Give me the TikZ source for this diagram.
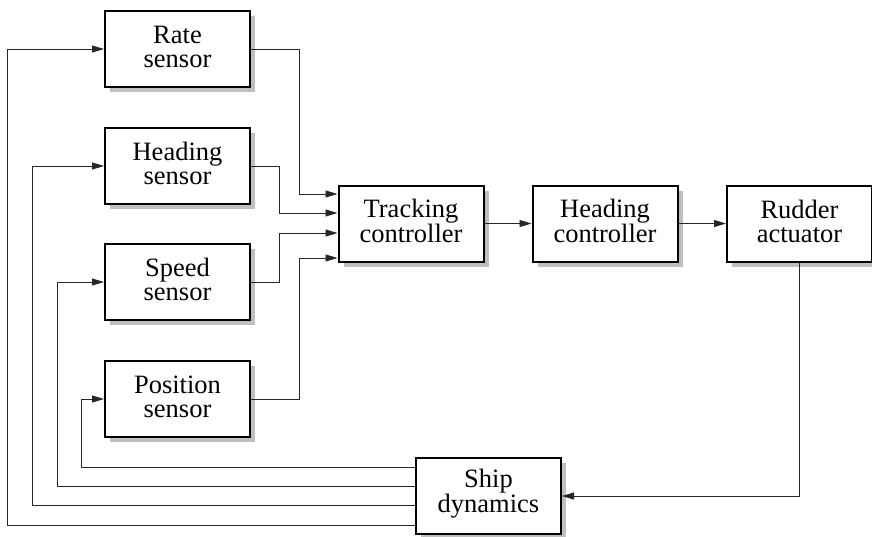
\documentclass[tikz,border=0pt]{standalone}
\usepackage{fontspec}
\setmainfont{Liberation Serif}
\usetikzlibrary{arrows.meta,shadows}
\begin{document}
\begin{tikzpicture}[x=1pt,y=-1pt,
  caption/.style={align=center, inner sep=0pt, font=\fontsize{26.5}{24}\selectfont, yshift=2.5pt},
  block/.style={draw, line width=2pt, minimum width=145pt, minimum height=76pt,
    inner sep=0pt, fill=white, label={[caption]center:#1},
    drop shadow={shadow xshift=5pt, shadow yshift=-5pt, fill=black!25, opacity=1}},
  link/.style={line width=0.9pt, draw=black!85},
  arr/.style={link, -{Triangle[length=12pt,width=7pt]}}]
\useasboundingbox (0,0) rectangle (872,536);

% sensors
\node[block={Rate\\sensor}]     (rate) at (177.5,49)  {};
\node[block={Heading\\sensor}]  (hs)   at (177.5,166) {};
\node[block={Speed\\sensor}]    (ss)   at (177.5,282) {};
\node[block={Position\\sensor}] (ps)   at (177.5,399) {};

% forward chain
\node[block={Tracking\\controller}] (tc)   at (411,223.5)   {};
\node[block={Heading\\controller}]  (hc)   at (605,223.5)   {};
\node[block={Rudder\\actuator}]     (ra)   at (799.5,223.5) {};
\node[block={Ship\\dynamics}]       (ship) at (488.5,496)   {};

% input ports on the tracking controller
\coordinate (in1) at ([yshift=29.5pt]tc.west);
\coordinate (in2) at ([yshift=10.5pt]tc.west);
\coordinate (in3) at ([yshift=-9.5pt]tc.west);
\coordinate (in4) at ([yshift=-34.5pt]tc.west);

% output ports on the ship dynamics block
\coordinate (o1) at ([yshift=29pt]ship.west);
\coordinate (o2) at ([yshift=10pt]ship.west);
\coordinate (o3) at ([yshift=-9pt]ship.west);
\coordinate (o4) at ([yshift=-29pt]ship.west);

% routing columns
\coordinate (ca) at (299,0);
\coordinate (cb) at (279,0);
\coordinate (f1) at (7,0);
\coordinate (f2) at (32,0);
\coordinate (f3) at (57,0);
\coordinate (f4) at (81,0);

% sensor outputs into the tracking controller
\draw[arr] (rate.east) -- (rate.east -| ca) |- (in1);
\draw[arr] (hs.east)   -- (hs.east -| cb)   |- (in2);
\draw[arr] (ss.east)   -- (ss.east -| cb)   |- (in3);
\draw[arr] (ps.east)   -- (ps.east -| ca)   |- (in4);

% forward path
\draw[arr] (tc) -- (hc);
\draw[arr] (hc) -- (ra);
\draw[arr] (ra.south) |- (ship.east);

% feedback to the sensors
\draw[arr] (o1) -- (o1 -| f4) |- (ps.west);
\draw[arr] (o2) -- (o2 -| f3) |- (ss.west);
\draw[arr] (o3) -- (o3 -| f2) |- (hs.west);
\draw[arr] (o4) -- (o4 -| f1) |- (rate.west);
\end{tikzpicture}
\end{document}
